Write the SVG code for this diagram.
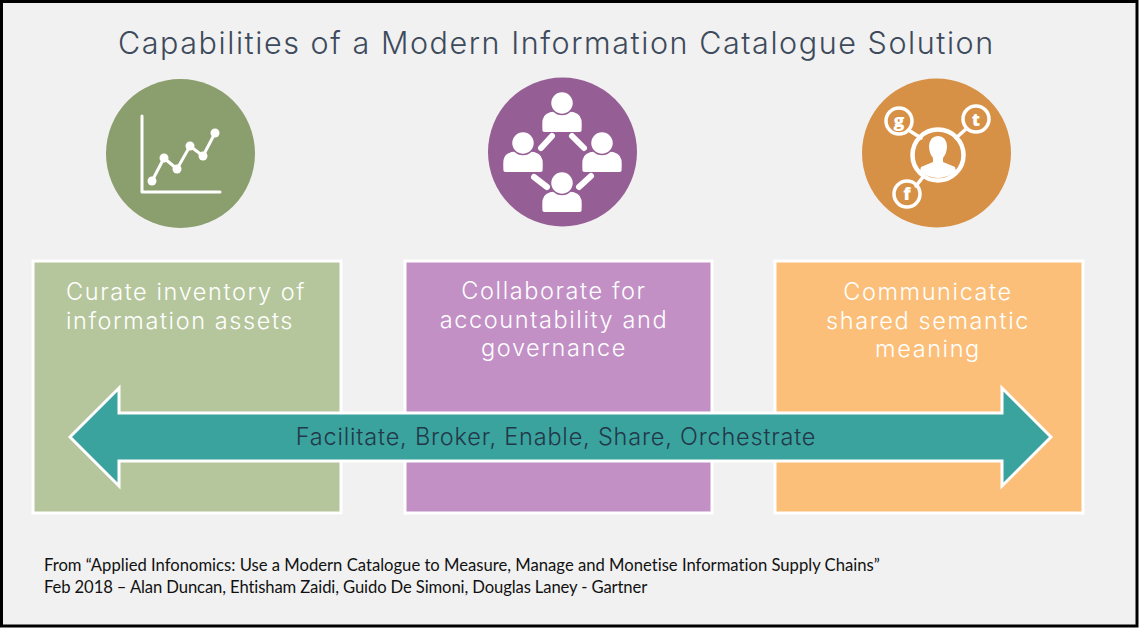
<svg xmlns="http://www.w3.org/2000/svg" width="1140" height="628" viewBox="0 0 1140 628">
<style>
.t{font-family:"Inter","Open Sans",sans-serif;font-weight:300}
.title{font-size:30.5px;fill:#3d4a5c;letter-spacing:1.56px}
.cap{font-size:23.5px;fill:#fff;text-anchor:middle;letter-spacing:1.6px}
.note{font-family:"Lato","Open Sans",sans-serif;font-size:16.65px;fill:#111;font-variant-ligatures:none}
.box{stroke:#fff;stroke-width:3}
.w{fill:#fff}
.ln{stroke:#fff;fill:none;stroke-linecap:round;stroke-linejoin:round}
.lt{font-family:"Open Sans",sans-serif;font-weight:800;font-size:18px;fill:#fff;text-anchor:middle}
</style>
<defs>
<g id="person"><path class="w" d="M-19.500 28Q-20 22-19.500 17Q-18 9-7 8.500Q0 14 7 8.500Q18 9 19.500 17Q20 22 19.500 28Q19 29 17 29H-17Q-19 29-19.500 28Z"/><circle cx="0" cy="0" r="11.500" class="w" stroke="#955f95" stroke-width="1.500"/></g>
</defs>
<rect x="1.500" y="1.500" width="1135.500" height="624.500" fill="#f1f1f1" stroke="#000" stroke-width="3"/>
<text id="title" class="t title" x="118" y="54">Capabilities of a Modern Information Catalogue Solution</text>
<g id="node-curate">
<circle cx="180.500" cy="153.500" r="74.500" fill="#8b9e6d"/>
<path class="ln" stroke-width="3" d="M142 116V192H220"/>
<path class="ln" stroke-width="3" d="M152 181L164 158L177 169L190 146L203 156L215 133"/>
<circle class="w" cx="152" cy="181" r="4.500"/><circle class="w" cx="164" cy="158" r="4.500"/><circle class="w" cx="177" cy="169" r="4.500"/><circle class="w" cx="190" cy="146" r="4.500"/><circle class="w" cx="203" cy="156" r="4.500"/><circle class="w" cx="215" cy="133" r="4.500"/>
<rect class="box" x="33" y="261" width="308" height="252" fill="#b6c69c"/>
<text class="t cap" x="186" y="300">Curate inventory of</text>
<text class="t cap" x="180" y="329">information assets</text>
</g>
<g id="node-collaborate">
<circle cx="562.500" cy="152" r="74.500" fill="#955f95"/>
<use href="#person" x="562" y="103"/><use href="#person" x="523" y="143"/><use href="#person" x="602" y="143"/><use href="#person" x="562" y="183"/>
<path class="ln" stroke-width="6" d="M541 148L552 136M572 136L584 148M534 177L547 187M579 187L591 176"/>
<rect class="box" x="405" y="261" width="307" height="252" fill="#c290c5"/>
<text class="t cap" x="554" y="299">Collaborate for</text>
<text class="t cap" x="554" y="328">accountability and</text>
<text class="t cap" x="554" y="356">governance</text>
</g>
<g id="node-communicate">
<circle cx="936.500" cy="153" r="74.500" fill="#d79147"/>
<path class="ln" stroke-width="3.500" d="M910 131L921 138M966 129L956 138M916 186L923 177"/>
<circle cx="938" cy="155" r="25.500" fill="none" stroke="#fff" stroke-width="4.500"/>
<circle cx="899" cy="121" r="13" fill="none" stroke="#fff" stroke-width="3.500"/>
<circle cx="976" cy="119" r="13" fill="none" stroke="#fff" stroke-width="3.500"/>
<circle cx="907" cy="194" r="13" fill="none" stroke="#fff" stroke-width="3.500"/>
<text class="lt" x="899" y="127">g</text><text class="lt" x="976" y="126">t</text><text class="lt" x="907" y="200">f</text>
<path class="w" d="M921 167L933 162V158Q929 153 929 146Q930 136 938 136Q946 136 947 146Q947 153 943 158V162L955 167L956 171Q948 178 938 178Q928 178 920 171Z"/>
<rect class="box" x="775" y="261" width="308" height="252" fill="#fbbf7a"/>
<text class="t cap" x="928" y="300">Communicate</text>
<text class="t cap" x="928" y="329">shared semantic</text>
<text class="t cap" x="928" y="357">meaning</text>
</g>
<g id="node-arrow">
<path d="M70 437L119 388V413H1002V388L1051 437L1002 486V461H119V486Z" fill="#3aa39d" stroke="#fff" stroke-width="3" stroke-linejoin="miter"/>
<text class="t" x="556" y="445" font-size="23.5" fill="#22384a" text-anchor="middle" letter-spacing="0.8">Facilitate, Broker, Enable, Share, Orchestrate</text>
</g>
<g id="source">
<text class="note" x="44" y="571">From “Applied Infonomics: Use a Modern Catalogue to Measure, Manage and Monetise Information Supply Chains”</text>
<text class="note" x="44" y="593" letter-spacing="-0.12">Feb 2018 – Alan Duncan, Ehtisham Zaidi, Guido De Simoni, Douglas Laney - Gartner</text>
</g>
<g id="connectors"/>
</svg>
